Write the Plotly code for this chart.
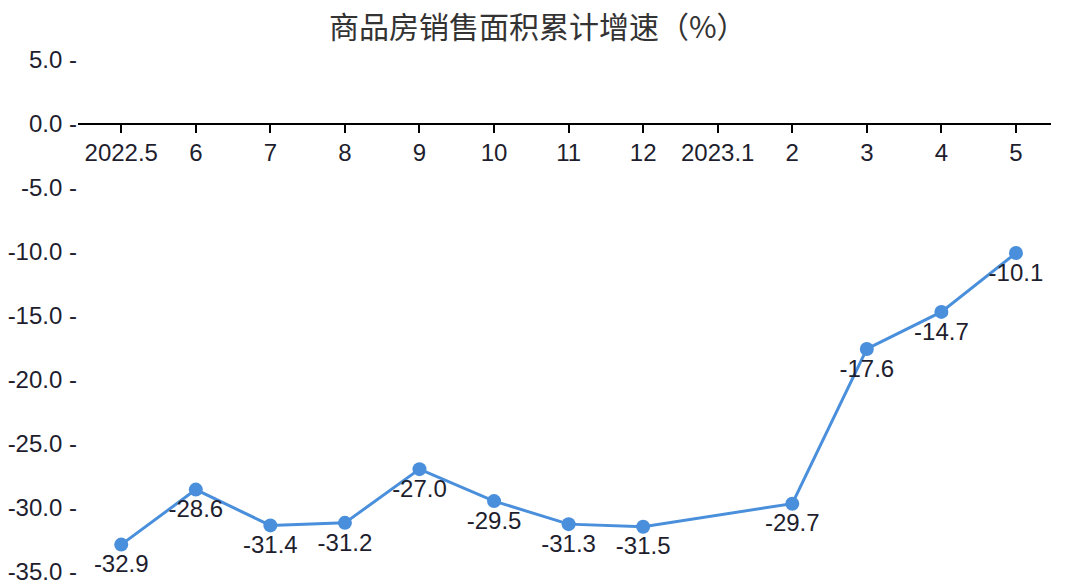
import plotly.graph_objects as go

# 商品房销售面积累计增速 (%), 2023.1 has no published figure
MONTHS = ["2022.5", "6", "7", "8", "9", "10", "11", "12", "2023.1", "2", "3", "4", "5"]
GROWTH = [-32.9, -28.6, -31.4, -31.2, -27.0, -29.5, -31.3, -31.5, None, -29.7, -17.6, -14.7, -10.1]
Y_TICKS = [5, 0, -5, -10, -15, -20, -25, -30, -35]

TITLE = "商品房销售面积累计增速（%）"
LINE_COLOR = "#4a8fdb"
TEXT_COLOR = "#1e1e2e"
FONT = "Liberation Sans, Arial, Noto Sans CJK SC, sans-serif"

# a little slack under -35 so its tick label sits just above the bottom edge
Y_MIN, Y_MAX = -35.2, 5

fig = go.Figure()
fig.add_trace(go.Scatter(
    x=MONTHS,
    y=GROWTH,
    mode="lines+markers+text",
    connectgaps=True,
    line=dict(color=LINE_COLOR, width=3),
    marker=dict(color=LINE_COLOR, size=14),
    text=[f"{v:.1f}" if v is not None else "" for v in GROWTH],
    textposition="bottom center",
    textfont=dict(size=24, color=TEXT_COLOR, family=FONT),
    cliponaxis=False,
    showlegend=False,
))

fig.update_layout(
    title=dict(text=TITLE, x=0.497, xanchor="center", y=0.953, yanchor="middle",
               automargin=False,
               font=dict(size=30, color="#333333", family="Noto Sans CJK SC, sans-serif")),
    width=1082,
    height=588,
    margin=dict(l=78, r=31, t=60, b=14),
    paper_bgcolor="white",
    plot_bgcolor="white",
    font=dict(family=FONT, color=TEXT_COLOR),
    xaxis=dict(
        type="category",
        range=[-0.58, 12.47],
        anchor="free",
        position=-Y_MIN / (Y_MAX - Y_MIN),
        automargin=False,
        showline=True,
        linecolor="black",
        linewidth=1.5,
        ticks="outside",
        ticklen=8,
        tickwidth=1.5,
        tickcolor="black",
        showgrid=False,
        zeroline=False,
        tickfont=dict(size=24, color=TEXT_COLOR),
    ),
    yaxis=dict(
        range=[Y_MIN, Y_MAX],
        tickvals=Y_TICKS,
        ticktext=[f"{v:.1f} -" for v in Y_TICKS],
        automargin=False,
        ticklabeloverflow="allow",
        ticklabelstandoff=0,
        showgrid=False,
        zeroline=False,
        showline=False,
        ticks="",
        tickfont=dict(size=24, color=TEXT_COLOR),
    ),
)

# drop the browser's default 8px body margin so the figure fills the window
fig.write_html(
    "out.html",
    config={"displayModeBar": False},
    post_script="document.body.style.margin='0px';document.body.style.overflow='hidden';",
)
